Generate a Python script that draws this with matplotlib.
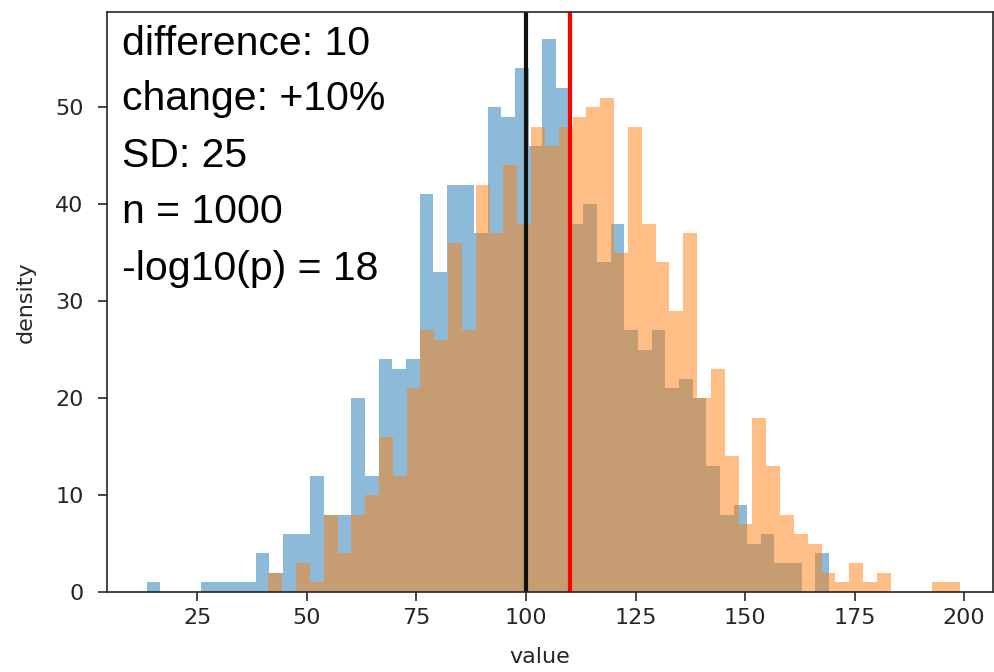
import matplotlib.pyplot as plt
import numpy as np

# counts per bin (50 bins each, 1000 values each)
blue_counts = [1, 0, 0, 0, 1, 1, 1, 1, 4, 2,
               6, 6, 12, 8, 8, 20, 12, 24, 23, 24,
               41, 33, 42, 42, 37, 50, 49, 54, 46, 57,
               52, 38, 40, 34, 38, 27, 25, 27, 21, 22,
               20, 13, 8, 9, 5, 6, 3, 3, 0, 4]
orange_counts = [2, 0, 3, 1, 8, 4, 8, 10, 16, 12,
                 21, 27, 26, 36, 27, 42, 37, 44, 38, 48,
                 46, 48, 49, 50, 51, 35, 48, 38, 34, 29,
                 37, 20, 23, 14, 7, 18, 13, 8, 6, 5,
                 2, 1, 3, 1, 2, 0, 0, 0, 1, 1]
blue_range = (13.4, 169.18)
orange_range = (41.2, 199.04)
n_bins = 50

control_mean = 100
treated_mean = 110

info_lines = ['difference: 10', 'change: +10%', 'SD: 25', 'n = 1000', '-log10(p) = 18']

W, H = 994, 672
fig = plt.figure(figsize=(W / 100, H / 100), dpi=100)
# axes box in pixels: left 106.7, right 993, top 11.7, bottom 592.1
ax = fig.add_axes([106.7 / W, (H - 592.1) / H, 886.3 / W, 580.4 / H])

blue_edges = np.linspace(blue_range[0], blue_range[1], n_bins + 1)
orange_edges = np.linspace(orange_range[0], orange_range[1], n_bins + 1)
ax.hist(blue_edges[:-1], bins=blue_edges, weights=blue_counts, alpha=0.5, color='C0')
ax.hist(orange_edges[:-1], bins=orange_edges, weights=orange_counts, alpha=0.5, color='C1')

ax.axvline(control_mean, color='#111111', lw=3)
ax.axvline(treated_mean, color='red', lw=3)

ax.set_xlim(4.3, 206.6)
ax.set_ylim(0, max(max(blue_counts), max(orange_counts)) * 1.05)
ax.set_xticks([25, 50, 75, 100, 125, 150, 175, 200])
ax.set_yticks([0, 10, 20, 30, 40, 50])

ax.tick_params(labelsize=16, length=6.5, width=1.2, colors='#262626')
ax.tick_params(axis='y', pad=10)
ax.tick_params(axis='x', pad=5)
for s in ax.spines.values():
    s.set_linewidth(1.2)
    s.set_color('#262626')

ax.set_xlabel('value', fontsize=16, color='#262626')
ax.set_ylabel('density', fontsize=16, color='#262626')
ax.xaxis.set_label_coords((540 - 106.7) / 886.3, -0.095)
ax.yaxis.set_label_coords(-0.08, 0.5)

# info text, one line at a time
baselines = [55, 110, 167, 223, 280]
for txt, yb in zip(info_lines, baselines):
    fig.text(121.7 / W, 1 - yb / H, txt, fontsize=29.5, family='Liberation Sans',
             va='baseline', ha='left', color='black')

fig.savefig('out.png', dpi=100)
